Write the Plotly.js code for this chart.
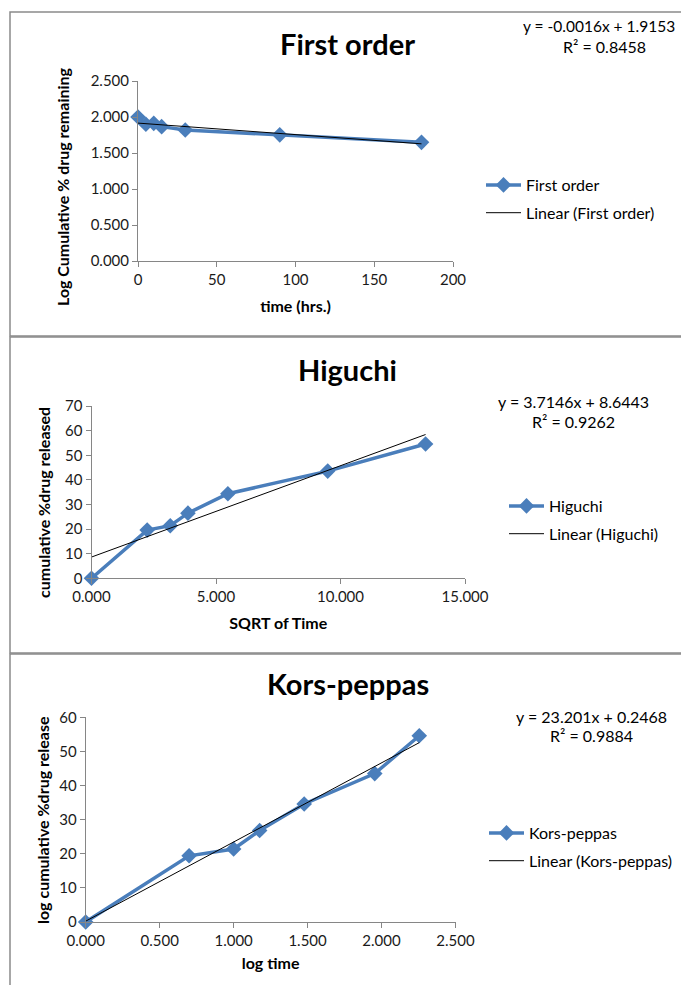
<!DOCTYPE html>
<html>
<head>
<meta charset="utf-8">
<script src="https://cdn.plot.ly/plotly-3.0.1.min.js"></script>
<style>html,body{margin:0;padding:0;background:#fff;}#chart{width:681px;height:985px;}</style>
</head>
<body>
<div id="chart"></div>
<script>
// ---- data ----
const timeHrs = [0, 5, 10, 15, 30, 90, 180];
const logCumRemaining = [2.000, 1.900, 1.912, 1.866, 1.820, 1.752, 1.648];
const sqrtTime = [0, 2.236, 3.162, 3.873, 5.477, 9.487, 13.416];
const cumReleased = [0, 19.6, 21.4, 26.5, 34.4, 43.6, 54.6];
const logTime = [0, 0.699, 1.000, 1.176, 1.477, 1.954, 2.255];
const cumReleaseKP = [0, 19.4, 21.4, 26.8, 34.6, 43.5, 54.6];

const firstFitX = [0, 180];
const firstFitY = [1.9153, 1.6273];
const higuchiFitX = [0, 13.416];
const higuchiFitY = [8.644, 58.48];
const kpFitX = [0, 2.255];
const kpFitY = [0.247, 52.57];

const panelTitles = ['First order', 'Higuchi', 'Kors-peppas'];
const seriesNames = ['First order', 'Higuchi', 'Kors-peppas'];
const fitNames = ['Linear (First order)', 'Linear (Higuchi)', 'Linear (Kors-peppas)'];
const equations = ['y = -0.0016x + 1.9153', 'y = 3.7146x + 8.6443', 'y = 23.201x + 0.2468'];
const rSquared = ['R² = 0.8458', 'R² = 0.9262', 'R² = 0.9884'];
const xTitles = ['time (hrs.)', 'SQRT of Time', 'log time'];
const yTitles = ['Log Cumulative % drug remaining', 'cumulative %drug released', 'log cumulative %drug release'];

// ---- layout helpers ----
const W = 681, H = 985;
const px = x => x / W;
const py = y => 1 - y / H;
const FONT = 'Lato, "Open Sans", sans-serif';
const BLUE = '#4A7EBB';
const AX = '#868686';

function seriesTrace(x, y, name, xa, ya, lg) {
  return {x, y, name, xaxis: xa, yaxis: ya, legend: lg, legendgroup: name,
    type: 'scatter', mode: 'lines+markers', cliponaxis: false,
    line: {color: BLUE, width: 3.5},
    marker: {symbol: 'diamond', size: 12, color: BLUE}};
}
function fitTrace(x, y, name, xa, ya, lg) {
  return {x, y, name, xaxis: xa, yaxis: ya, legend: lg, legendgroup: name,
    type: 'scatter', mode: 'lines', cliponaxis: false,
    line: {color: '#000000', width: 1}};
}

const data = [
  seriesTrace(timeHrs, logCumRemaining, seriesNames[0], 'x', 'y', 'legend'),
  fitTrace(firstFitX, firstFitY, fitNames[0], 'x', 'y', 'legend'),
  seriesTrace(sqrtTime, cumReleased, seriesNames[1], 'x2', 'y2', 'legend2'),
  fitTrace(higuchiFitX, higuchiFitY, fitNames[1], 'x2', 'y2', 'legend2'),
  seriesTrace(logTime, cumReleaseKP, seriesNames[2], 'x3', 'y3', 'legend3'),
  fitTrace(kpFitX, kpFitY, fitNames[2], 'x3', 'y3', 'legend3')
];

function xAxis(dom, range, dtick, fmt, title, anchor, standoff) {
  return {domain: dom, range, dtick, tick0: 0, tickformat: fmt, anchor,
    showgrid: false, zeroline: false, showline: true, linecolor: AX, linewidth: 1,
    ticks: 'outside', ticklen: 5, tickcolor: AX,
    tickfont: {family: FONT, size: 15, color: '#1a1a1a'},
    title: {text: title, standoff, font: {family: FONT, size: 16, color: '#000', weight: 'bold'}},
    fixedrange: true};
}
function yAxis(dom, range, dtick, fmt, anchor) {
  return {domain: dom, range, dtick, tick0: 0, tickformat: fmt, anchor,
    showgrid: false, zeroline: false, showline: true, linecolor: AX, linewidth: 1,
    ticks: 'outside', ticklen: 5, tickcolor: AX,
    tickfont: {family: FONT, size: 15, color: '#1a1a1a'},
    fixedrange: true};
}
function legendAt(x, y) {
  return {x: px(x), y: py(y), xanchor: 'left', yanchor: 'top',
    font: {family: FONT, size: 16, color: '#000'}, bgcolor: 'rgba(0,0,0,0)',
    itemwidth: 35, traceorder: 'grouped', tracegroupgap: 4, borderwidth: 0};
}
function ann(text, x, y, size, bold, angle) {
  return {text, x: px(x), y: py(y), xref: 'paper', yref: 'paper',
    xanchor: 'center', yanchor: 'middle', showarrow: false, textangle: angle || 0,
    font: {family: FONT, size, color: '#000', weight: bold ? 'bold' : 'normal'}};
}

const layout = {
  width: W, height: H, margin: {l: 0, r: 0, t: 0, b: 0},
  paper_bgcolor: '#ffffff', plot_bgcolor: 'rgba(0,0,0,0)',
  showlegend: true,
  xaxis: xAxis([px(138), px(453)], [0, 200], 50, 'd', xTitles[0], 'y', 13),
  yaxis: yAxis([py(261), py(81)], [0, 2.5], 0.5, '.3f', 'x'),
  xaxis2: xAxis([px(91.5), px(465)], [0, 15], 5, '.3f', xTitles[1], 'y2', 13),
  yaxis2: yAxis([py(578.3), py(406.2)], [0, 70], 10, 'd', 'x2'),
  xaxis3: xAxis([px(85.7), px(455.5)], [0, 2.5], 0.5, '.3f', xTitles[2], 'y3', 9),
  yaxis3: yAxis([py(922), py(717.3)], [0, 60], 10, 'd', 'x3'),
  legend: legendAt(481, 168),
  legend2: legendAt(504, 489),
  legend3: legendAt(484, 816),
  annotations: [
    ann(panelTitles[0], 347.5, 43.5, 29, true),
    ann(panelTitles[1], 347.5, 369.5, 29, true),
    ann(panelTitles[2], 347.5, 683.5, 29, true),
    ann(equations[0], 599, 26.5, 15.5),
    ann(rSquared[0], 604, 46.5, 16),
    ann(equations[1], 573.5, 401.5, 16),
    ann(rSquared[1], 573.5, 421.5, 16),
    ann(equations[2], 591, 716.5, 16),
    ann(rSquared[2], 591, 735, 16),
    ann(yTitles[0], 62, 187, 16, true, -90),
    ann(yTitles[1], 44, 503, 16, true, -90),
    ann(yTitles[2], 42, 820, 16, true, -90)
  ],
  shapes: [
    {type: 'rect', xref: 'paper', yref: 'paper', x0: px(10), x1: px(700), y0: py(12), y1: py(336), line: {color: '#8a8a8a', width: 1.5}},
    {type: 'rect', xref: 'paper', yref: 'paper', x0: px(10), x1: px(700), y0: py(337), y1: py(653), line: {color: '#8a8a8a', width: 1.5}},
    {type: 'rect', xref: 'paper', yref: 'paper', x0: px(10), x1: px(700), y0: py(654), y1: py(1000), line: {color: '#8a8a8a', width: 1.5}}
  ]
};

Plotly.newPlot('chart', data, layout, {displayModeBar: false, staticPlot: true});
</script>
</body>
</html>
